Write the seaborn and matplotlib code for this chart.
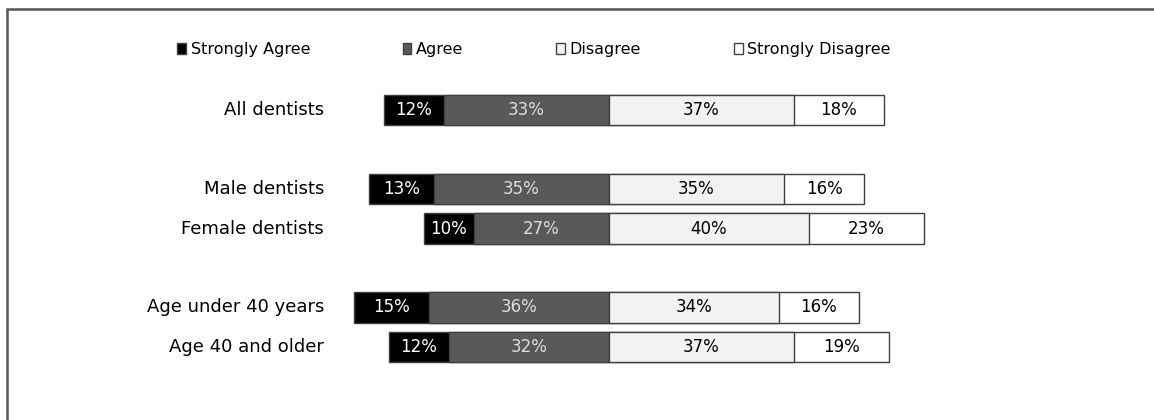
import numpy as np
import pandas as pd
import seaborn as sns
import matplotlib.pyplot as plt
from matplotlib.patches import Patch, Rectangle

# Survey data (percent)
groups = ['All dentists', 'Male dentists', 'Female dentists',
          'Age under 40 years', 'Age 40 and older']
strongly_agree = [12, 13, 10, 15, 12]
agree = [33, 35, 27, 36, 32]
disagree = [37, 35, 40, 34, 37]
strongly_disagree = [18, 16, 23, 16, 19]
responses = ['Strongly Agree', 'Agree', 'Disagree', 'Strongly Disagree']

# Layout: row slots (blank slots between groups)
row_slot = [0, 2, 3, 5, 6]
colors = ['#000000', '#595959', '#f2f2f2', '#ffffff']
text_colors = ['#ffffff', '#dddddd', '#000000', '#000000']
edge = '#404040'

df = pd.DataFrame({'group': groups, 'slot': row_slot,
                   'sa': strongly_agree, 'a': agree,
                   'd': disagree, 'sd': strongly_disagree})
df['left_outer'] = -(df['sa'] + df['a'])
df['left_inner'] = -df['a']
df['right_outer'] = df['d'] + df['sd']
df['right_inner'] = df['d']

sns.set_style('white')
plt.rcParams['font.family'] = ['DejaVu Sans']

fig = plt.figure(figsize=(11.54, 4.2), dpi=100)
ax = fig.add_axes([0, 0, 1, 1])

# Diverging stacked bars drawn outer first, inner on top
for col, c in [('left_outer', colors[0]), ('left_inner', colors[1]),
               ('right_outer', colors[3]), ('right_inner', colors[2])]:
    sns.barplot(data=df, x=col, y='slot', orient='h', native_scale=True,
                color=c, saturation=1, edgecolor=edge, linewidth=1,
                width=0.78, errorbar=None, ax=ax)

# Segment value labels
for _, r in df.iterrows():
    centers = [-(r['a'] + r['sa'] / 2), -r['a'] / 2, r['d'] / 2, r['d'] + r['sd'] / 2]
    vals = [r['sa'], r['a'], r['d'], r['sd']]
    for cx, v, tc in zip(centers, vals, text_colors):
        ax.text(cx, r['slot'], f'{v}%', ha='center', va='center',
                fontsize=12, color=tc)
    ax.text(-57, r['slot'], r['group'], ha='right', va='center',
            fontsize=13, color='#000000')

# pixel-like mapping: centre line at x=609px, 5px per percent; rows 39.5px apart
ax.set_xlim(-609 / 5, (1154 - 609) / 5)
ax.set_ylim((420 - 110) / 39.5, -110 / 39.5)
ax.axis('off')

handles = [Patch(facecolor=c, edgecolor=edge, linewidth=1) for c in colors]
fig.legend(handles, responses, loc='center', bbox_to_anchor=(0.4627, 0.881),
           ncol=4, frameon=False, fontsize=11.5, handlelength=0.55,
           handleheight=0.7, handletextpad=0.3, columnspacing=5.8,
           labelcolor='black')

# outer frame (top and left edges visible)
fig.add_artist(Rectangle((6.5 / 1154, -0.5), 2, (420 - 8.5) / 420 + 0.5,
                         transform=fig.transFigure, fill=False,
                         edgecolor='#555555', linewidth=1.8, clip_on=False))

fig.savefig('out.png', dpi=100)
